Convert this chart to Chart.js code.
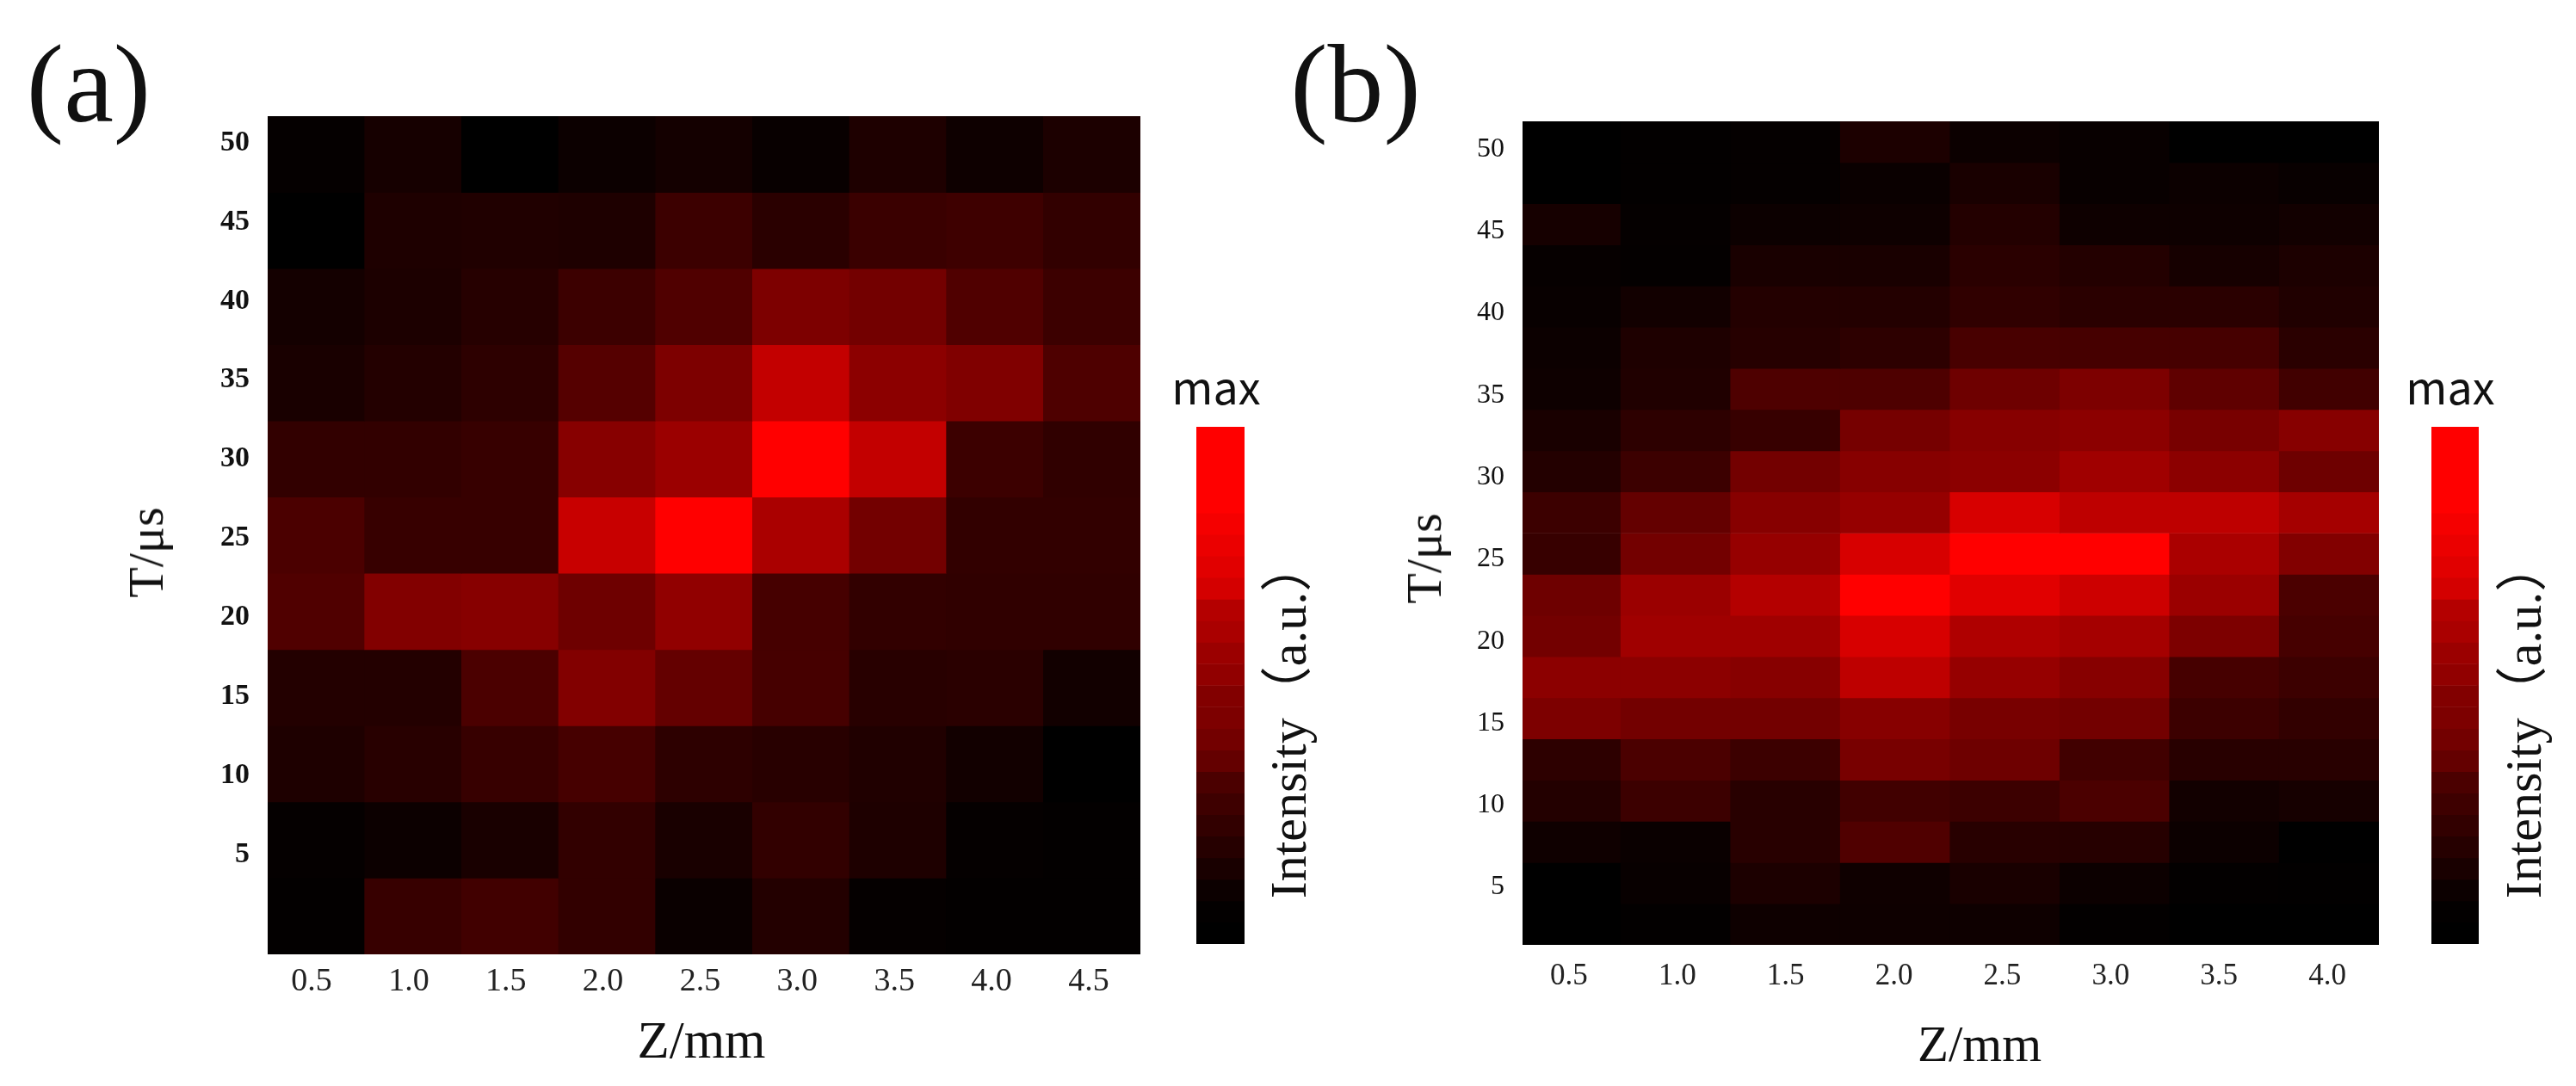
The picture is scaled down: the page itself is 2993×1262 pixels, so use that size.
<!DOCTYPE html>
<html>
<head>
<meta charset="utf-8">
<script src="https://cdn.jsdelivr.net/npm/chart.js@4"></script>
<style>
  html, body { margin: 0; padding: 0; background: #fff; }
  #page { position: relative; width: 2993px; height: 1262px; overflow: hidden; }
  canvas { position: absolute; }
  .lbl { position: absolute; white-space: nowrap; line-height: 1; color: #111; font-family: "Liberation Serif", serif; }
</style>
</head>
<body>
<div id="page"></div>
<script>
const tTicks = [5, 10, 15, 20, 25, 30, 35, 40, 45, 50];

// panel (a): rows from the top of the picture down, columns Z = 0.5 ... 4.5
const zCellsA = [0.5, 1.0, 1.5, 2.0, 2.5, 3.0, 3.5, 4.0, 4.5];
const zTicksA = [0.5, 1.0, 1.5, 2.0, 2.5, 3.0, 3.5, 4.0, 4.5];
const intensityA = [
  [5, 22, 0, 12, 20, 8, 30, 14, 28],
  [0, 30, 32, 30, 60, 42, 58, 62, 50],
  [20, 28, 38, 60, 80, 125, 115, 80, 60],
  [25, 35, 45, 85, 125, 195, 140, 128, 78],
  [50, 50, 55, 135, 155, 255, 195, 60, 48],
  [75, 55, 55, 200, 255, 170, 115, 50, 50],
  [80, 130, 135, 110, 145, 70, 50, 48, 48],
  [35, 35, 75, 130, 100, 70, 40, 42, 18],
  [30, 40, 55, 70, 45, 40, 32, 18, 0],
  [5, 12, 25, 50, 25, 50, 30, 5, 3],
  [3, 55, 65, 50, 10, 35, 5, 3, 3]
];

// panel (b): same layout, Z = 0.5 ... 4.0, twice as many rows
const zCellsB = [0.5, 1.0, 1.5, 2.0, 2.5, 3.0, 3.5, 4.0];
const zTicksB = [0.5, 1.0, 1.5, 2.0, 2.5, 3.0, 3.5, 4.0];
const intensityB = [
  [0, 3, 5, 28, 12, 8, 0, 0],
  [0, 3, 5, 10, 25, 8, 12, 8],
  [22, 5, 12, 14, 35, 14, 14, 18],
  [6, 4, 25, 25, 42, 35, 22, 28],
  [8, 18, 35, 35, 48, 42, 42, 32],
  [12, 30, 38, 45, 72, 70, 70, 42],
  [14, 32, 78, 78, 110, 125, 95, 65],
  [25, 45, 55, 118, 135, 140, 120, 135],
  [35, 60, 115, 135, 140, 160, 140, 110],
  [60, 100, 135, 150, 215, 190, 190, 165],
  [55, 115, 150, 215, 255, 255, 170, 130],
  [110, 155, 180, 255, 225, 205, 155, 75],
  [115, 160, 160, 215, 175, 165, 125, 70],
  [140, 140, 135, 190, 150, 135, 70, 60],
  [125, 115, 115, 135, 120, 115, 60, 50],
  [45, 75, 60, 120, 110, 65, 40, 40],
  [35, 60, 40, 65, 60, 75, 18, 22],
  [15, 10, 40, 80, 40, 38, 12, 0],
  [0, 8, 28, 15, 25, 12, 3, 2],
  [0, 3, 14, 14, 14, 3, 0, 0]
];

// colour bar steps, top to bottom
const barSteps = [255, 255, 255, 255, 245, 235, 225, 212, 180, 170, 155, 145,
  130, 125, 115, 100, 75, 62, 50, 38, 25, 12, 3, 0];

const page = document.getElementById('page');

function red(v) {
  return `rgb(${v},0,0)`;
}

function addCanvas(box) {
  const canvas = document.createElement('canvas');
  canvas.width = box.w;
  canvas.height = box.h;
  canvas.style.left = box.x + 'px';
  canvas.style.top = box.y + 'px';
  page.appendChild(canvas);
  return canvas;
}

function addLabel(text, cx, cy, size, opts = {}) {
  const el = document.createElement('div');
  el.className = 'lbl';
  el.textContent = text;
  el.style.left = cx + 'px';
  el.style.top = cy + 'px';
  el.style.fontSize = size + 'px';
  if (opts.family) el.style.fontFamily = opts.family;
  if (opts.weight) el.style.fontWeight = opts.weight;
  el.style.transform = 'translate(-50%,-50%)' + (opts.rotate ? ' rotate(-90deg)' : '');
  page.appendChild(el);
}

// one dataset per row, one floating bar per cell
function heatmapDatasets(zCells, grid) {
  return grid.map((row, r) => ({
    data: row.map((v, c) => ({ x: zCells[c], y: [grid.length - r - 1, grid.length - r] })),
    backgroundColor: row.map(red),
    grouped: false,
    barPercentage: 1,
    categoryPercentage: 1,
    xAxisID: 'x',
    yAxisID: 'y'
  }));
}

// tick labels may hang over the plot edge, don't let the layout shrink the plot for them
function noOverhang(s) {
  s.paddingLeft = s.paddingRight = s.paddingTop = s.paddingBottom = 0;
}

function drawHeatmap(cfg) {
  const box = cfg.box, plot = cfg.plot;
  return new Chart(addCanvas(box), {
    type: 'bar',
    data: { datasets: heatmapDatasets(cfg.zCells, cfg.grid) },
    options: {
      responsive: false,
      animation: false,
      layout: {
        padding: {
          left: 0,
          bottom: 0,
          top: plot.top - box.y,
          right: box.x + box.w - plot.right
        }
      },
      plugins: { legend: { display: false }, tooltip: { enabled: false } },
      scales: {
        // cell scales, hidden. The ticks are set too because the bar width is taken from them
        x: {
          type: 'linear',
          display: false,
          offset: false,
          min: cfg.cellX[0],
          max: cfg.cellX[1],
          afterBuildTicks: s => { s.ticks = cfg.zCells.map(v => ({ value: v })); }
        },
        y: { type: 'linear', display: false, min: 0, max: cfg.grid.length },
        // the printed labels do not sit quite on the cell centres, so they get their own scales
        xt: {
          type: 'linear',
          position: 'bottom',
          offset: false,
          min: cfg.tickX[0],
          max: cfg.tickX[1],
          afterBuildTicks: s => { s.ticks = cfg.zTicks.map(v => ({ value: v })); },
          afterFit: s => { s.height = box.y + box.h - plot.bottom; noOverhang(s); },
          grid: { display: false, drawTicks: false },
          border: { display: false },
          ticks: {
            autoSkip: false,
            maxRotation: 0,
            padding: cfg.xPad,
            color: '#222',
            font: { family: 'Liberation Serif', size: cfg.xFont },
            callback: v => v.toFixed(1)
          }
        },
        yt: {
          type: 'linear',
          position: 'left',
          min: cfg.tickY[0],
          max: cfg.tickY[1],
          afterBuildTicks: s => { s.ticks = tTicks.map(v => ({ value: v })); },
          afterFit: s => { s.width = plot.left - box.x; noOverhang(s); },
          grid: { display: false, drawTicks: false },
          border: { display: false },
          ticks: {
            autoSkip: false,
            padding: 21,
            color: '#111',
            font: { family: 'Liberation Serif', size: cfg.yFont, weight: cfg.yWeight }
          }
        }
      }
    }
  });
}

function drawColorBar(box) {
  const n = barSteps.length;
  const bands = barSteps.map((v, i) => ({
    data: [[n - i - 1, n - i]],
    backgroundColor: red(v),
    grouped: false,
    barPercentage: 1,
    categoryPercentage: 1
  }));
  bands.push({
    data: [[0, n]],
    backgroundColor: 'transparent',
    borderColor: '#333',
    borderWidth: 2,
    borderSkipped: false,
    grouped: false,
    barPercentage: 1,
    categoryPercentage: 1
  });
  return new Chart(addCanvas(box), {
    type: 'bar',
    data: { labels: ['Intensity'], datasets: bands },
    options: {
      responsive: false,
      animation: false,
      plugins: { legend: { display: false }, tooltip: { enabled: false } },
      scales: {
        x: { display: false },
        y: { display: false, min: 0, max: n }
      }
    }
  });
}

drawHeatmap({
  box: { x: 200, y: 120, w: 1140, h: 1060 },
  plot: { left: 311, right: 1325, top: 135, bottom: 1109 },
  zCells: zCellsA, zTicks: zTicksA, grid: intensityA,
  cellX: [0.25, 4.75], tickX: [0.274, 4.766], tickY: [-1.31, 51.69],
  xFont: 38, xPad: 9, yFont: 34, yWeight: 'bold'
});

drawHeatmap({
  box: { x: 1660, y: 125, w: 1120, h: 1050 },
  plot: { left: 1769, right: 2764, top: 141, bottom: 1098 },
  zCells: zCellsB, zTicks: zTicksB, grid: intensityB,
  cellX: [0.302, 4.204], tickX: [0.2855, 4.238], tickY: [1.485, 51.7],
  xFont: 35, xPad: 16, yFont: 32, yWeight: 'normal'
});

drawColorBar({ x: 1390, y: 496, w: 56, h: 601 });
drawColorBar({ x: 2825, y: 496, w: 55, h: 601 });

addLabel('(a)', 103, 97, 130);
addLabel('(b)', 1575, 97, 130);

addLabel('T/μs', 170, 642, 58, { rotate: true });
addLabel('T/μs', 1655, 649, 58, { rotate: true });
addLabel('Z/mm', 815, 1208, 61);
addLabel('Z/mm', 2300, 1213, 59);

addLabel('max', 1413, 448, 52, { family: '"Noto Sans CJK SC", "Noto Sans", sans-serif' });
addLabel('max', 2847, 448, 52, { family: '"Noto Sans CJK SC", "Noto Sans", sans-serif' });

const cjkSerif = '"Liberation Serif", "Noto Sans CJK SC", serif';
addLabel('Intensity（a.u.）', 1497, 836, 60, { rotate: true, family: cjkSerif });
addLabel('Intensity（a.u.）', 2932, 836, 60, { rotate: true, family: cjkSerif });
</script>
</body>
</html>
